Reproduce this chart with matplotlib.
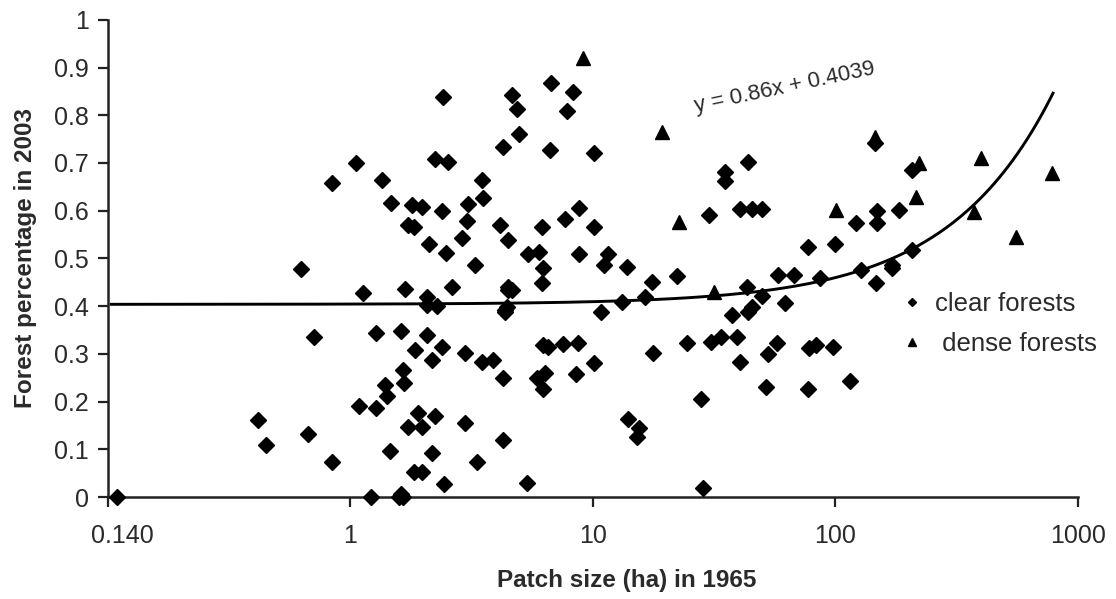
import numpy as np
import matplotlib
matplotlib.use("Agg")
import matplotlib.pyplot as plt
from matplotlib.transforms import ScaledTranslation

plt.rcParams["font.family"] = ["Liberation Sans", "DejaVu Sans"]

# clear forests (diamonds): patch size (ha) in 1965, forest share in 2003
clear_x = [0.109, 0.414, 0.447, 0.665, 0.705, 0.836, 0.628, 0.836, 1.05, 1.13,
           1.355, 1.475, 1.08, 1.27, 1.27, 1.22, 1.45, 1.41, 1.39, 1.58,
           2.24, 2.53, 3.49, 3.52, 1.80, 1.98, 2.39, 3.06, 1.72, 1.82,
           3.03, 4.14, 4.47, 2.11, 2.48, 2.89, 3.27, 1.68, 2.07, 2.07,
           2.28, 2.63, 4.47, 4.34, 1.61, 2.07, 1.85, 2.39, 2.17, 2.97,
           3.49, 3.88, 4.26, 1.64, 1.67, 1.90, 2.24, 1.73, 1.98, 2.97,
           4.26, 2.17, 3.33, 1.82, 1.98, 2.44, 1.61, 1.65, 4.64, 6.71,
           8.27, 4.86, 7.81, 4.96, 4.26, 6.65, 10.1, 43.5, 35.2, 35.2,
           40.3, 45.1, 49.6, 30.0, 6.17, 7.67, 8.75, 10.1, 5.4, 6.0,
           6.23, 6.17, 8.75, 11.5, 11.1, 13.8, 17.5, 22.2, 4.64, 4.43,
           13.2, 16.4, 10.8, 43.0, 49.6, 58.2, 67.2, 61.7, 37.3, 43.5,
           45.5, 6.23, 6.53, 7.53, 8.67, 17.7, 24.4, 30.6, 33.6, 39.2,
           40.6, 52.5, 57.7, 51.5, 27.8, 5.89, 6.34, 6.23, 8.51, 10.1,
           13.9, 15.5, 15.2, 5.35, 28.4, 145, 207, 149, 149, 122,
           183, 77.4, 100, 207, 172, 172, 128, 86, 147, 78.2,
           83.5, 98, 77.4, 115, 2.41, 4.35, 4.47]
clear_y = [0.0, 0.161, 0.109, 0.132, 0.335, 0.073, 0.478, 0.658, 0.700, 0.428,
           0.665, 0.617, 0.191, 0.344, 0.187, 0.0, 0.096, 0.212, 0.236, 0.0,
           0.709, 0.702, 0.665, 0.627, 0.612, 0.608, 0.600, 0.614, 0.570, 0.566,
           0.579, 0.570, 0.539, 0.530, 0.512, 0.543, 0.486, 0.436, 0.419, 0.403,
           0.400, 0.440, 0.440, 0.392, 0.348, 0.340, 0.308, 0.315, 0.287, 0.302,
           0.283, 0.287, 0.249, 0.266, 0.239, 0.176, 0.170, 0.147, 0.147, 0.155,
           0.119, 0.092, 0.073, 0.052, 0.052, 0.027, 0.006, 0.0, 0.843, 0.868,
           0.849, 0.813, 0.809, 0.761, 0.734, 0.727, 0.721, 0.702, 0.681, 0.663,
           0.604, 0.604, 0.604, 0.591, 0.566, 0.583, 0.606, 0.566, 0.509, 0.514,
           0.480, 0.449, 0.509, 0.509, 0.486, 0.482, 0.451, 0.463, 0.433, 0.398,
           0.409, 0.419, 0.388, 0.440, 0.421, 0.465, 0.465, 0.407, 0.382, 0.388,
           0.398, 0.319, 0.315, 0.321, 0.323, 0.302, 0.323, 0.325, 0.335, 0.335,
           0.283, 0.300, 0.323, 0.231, 0.205, 0.249, 0.260, 0.226, 0.258, 0.281,
           0.164, 0.145, 0.126, 0.029, 0.019, 0.742, 0.686, 0.600, 0.574, 0.574,
           0.602, 0.524, 0.530, 0.518, 0.486, 0.480, 0.476, 0.459, 0.449, 0.312,
           0.319, 0.315, 0.226, 0.243, 0.838, 0.388, 0.434]

# dense forests (triangles)
dense_x = [9.10, 19.2, 22.6, 31.5, 145, 222, 399, 782, 215, 101, 373, 556]
dense_y = [0.920, 0.765, 0.577, 0.430, 0.755, 0.700, 0.711, 0.679, 0.629, 0.602, 0.598, 0.545]

# linear trend line as printed by the spreadsheet
trend_slope = 0.00056
trend_icpt = 0.4039
trend_range = (0.103, 790)
eq_label = "y = 0.86x + 0.4039"

x_ticks = [0.1, 1, 10, 100, 1000]
x_ticklabels = ["0.140", "1", "10", "100", "1000"]
y_ticks = [0, 0.1, 0.2, 0.3, 0.4, 0.5, 0.6, 0.7, 0.8, 0.9, 1]
y_ticklabels = ["0", "0.1", "0.2", "0.3", "0.4", "0.5", "0.6", "0.7", "0.8", "0.9", "1"]

txt = "#2a2a2a"

fig = plt.figure(figsize=(11.16, 5.99), dpi=100)
ax = fig.add_axes([0.0968, 0.170, 0.869, 0.797])

tx = np.logspace(np.log10(trend_range[0]), np.log10(trend_range[1]), 400)
ax.plot(tx, trend_slope * tx + trend_icpt, color="black", lw=2.1, zorder=2)

ax.plot(clear_x, clear_y, ls="none", marker="D", ms=8, color="black",
        clip_on=False, zorder=3, label="clear forests")
ax.plot(dense_x, dense_y, ls="none", marker="^", ms=10.5, color="black",
        clip_on=False, zorder=3, label=" dense forests")

ax.set_xscale("log")
ax.set_xlim(0.1, 1000)
ax.set_ylim(0, 1)
ax.set_xticks(x_ticks)
ax.set_xticklabels(x_ticklabels)
ax.xaxis.set_minor_locator(matplotlib.ticker.NullLocator())
ax.set_yticks(y_ticks)
ax.set_yticklabels(y_ticklabels)

for side in ("top", "right"):
    ax.spines[side].set_visible(False)
for side in ("left", "bottom"):
    ax.spines[side].set_linewidth(1.8)
    ax.spines[side].set_color("#222222")
ax.tick_params(axis="both", direction="out", length=7, width=1.6,
               colors="#222222", labelcolor=txt, labelsize=18)
ax.tick_params(axis="x", pad=12)
ax.tick_params(axis="y", pad=7)

# first x label sits a little right of the axis start
first = ax.get_xticklabels()[0]
first.set_transform(first.get_transform() + ScaledTranslation(0.14, 0, fig.dpi_scale_trans))

ax.set_xlabel("Patch size (ha) in 1965", fontsize=17.5, fontweight="bold", color=txt)
ax.xaxis.set_label_coords(0.535, -0.15)
ax.set_ylabel("Forest percentage in 2003", fontsize=17.5, fontweight="bold", color=txt)
ax.yaxis.set_label_coords(-0.073, 0.5)

ax.text(62, 0.857, eq_label, rotation=12, fontsize=16, color=txt,
        ha="center", va="center")

leg = ax.legend(loc="upper left", bbox_to_anchor=(0.805, 0.452), frameon=False,
                fontsize=18.5, handletextpad=0.4, labelspacing=0.62,
                markerscale=0.55, handlelength=1.0, borderaxespad=0)
for t in leg.get_texts():
    t.set_color(txt)

fig.savefig("out.png", dpi=100)
